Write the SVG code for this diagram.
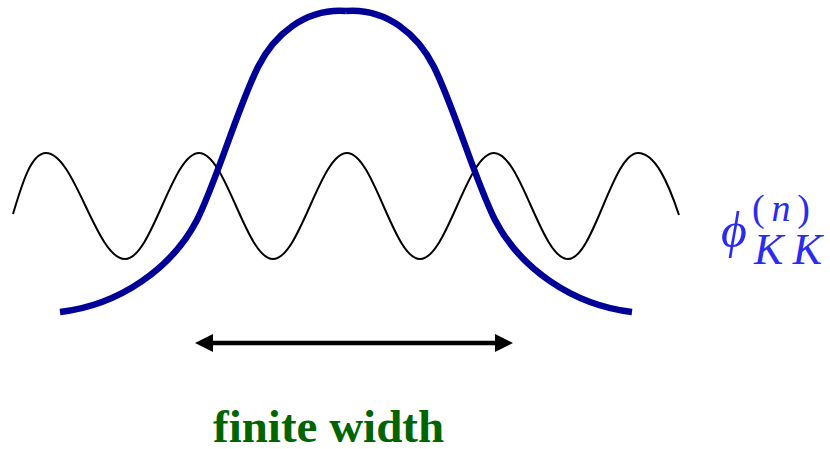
<svg xmlns="http://www.w3.org/2000/svg" width="830" height="449" viewBox="0 0 830 449">
<style>
.wave{fill:none;stroke:#000;stroke-width:2}
.gauss{fill:none;stroke:#000099;stroke-width:6.5;stroke-linecap:butt;stroke-linejoin:round}
.arrow-line{stroke:#000;stroke-width:4.5}
.head{fill:#000}
.caption{font-family:"Liberation Serif","Times New Roman",serif;font-weight:bold;font-size:47px;fill:#006400}
.math{font-family:"Liberation Serif","DejaVu Serif",serif;fill:#2a2af0}
</style>
<rect width="830" height="449" fill="#fff"/>
<g id="wave">
<path class="wave" d="M13,214 C22,184 31,153 46,153 C74.8,153 96.2,259 125,259 C151.9,259 172.1,153 199,153 C225.9,153 246.1,259 273,259 C299.9,259 320.1,153 347,153 C373.6,153 393.4,259 420,259 C446.9,259 467.1,153 494,153 C520.9,153 541.1,259 568,259 C593.5,259 612.5,153 638,153 C655,153 668,182 679,215"/>
</g>
<g id="gaussian">
<path class="gauss" d="M60,312 C120,305 172,268 197,220 C217,180 238,107 258,67 C274,35 305,8 346,11"/>
<path class="gauss" d="M632,312 C572,305 520,268 495,220 C475,180 454,107 434,67 C418,35 387,8 346,11"/>
</g>
<g id="connectors">
<g id="width-arrow">
<line class="arrow-line" x1="210" y1="343" x2="498" y2="343"/>
<polygon class="head" points="195,343 213,334 213,352"/>
<polygon class="head" points="513,343 495,334 495,352"/>
</g>
</g>
<g id="caption">
<text class="caption" x="213" y="442">finite width</text>
</g>
<g id="phi-label">
<text class="math" x="721" y="247" font-size="50" font-style="italic">ϕ</text>
<text class="math" x="752" y="221" font-size="38" textLength="58">(<tspan font-style="italic">n</tspan>)</text>
<text class="math" x="754" y="264" font-size="44" font-style="italic" textLength="68">KK</text>
</g>
</svg>
